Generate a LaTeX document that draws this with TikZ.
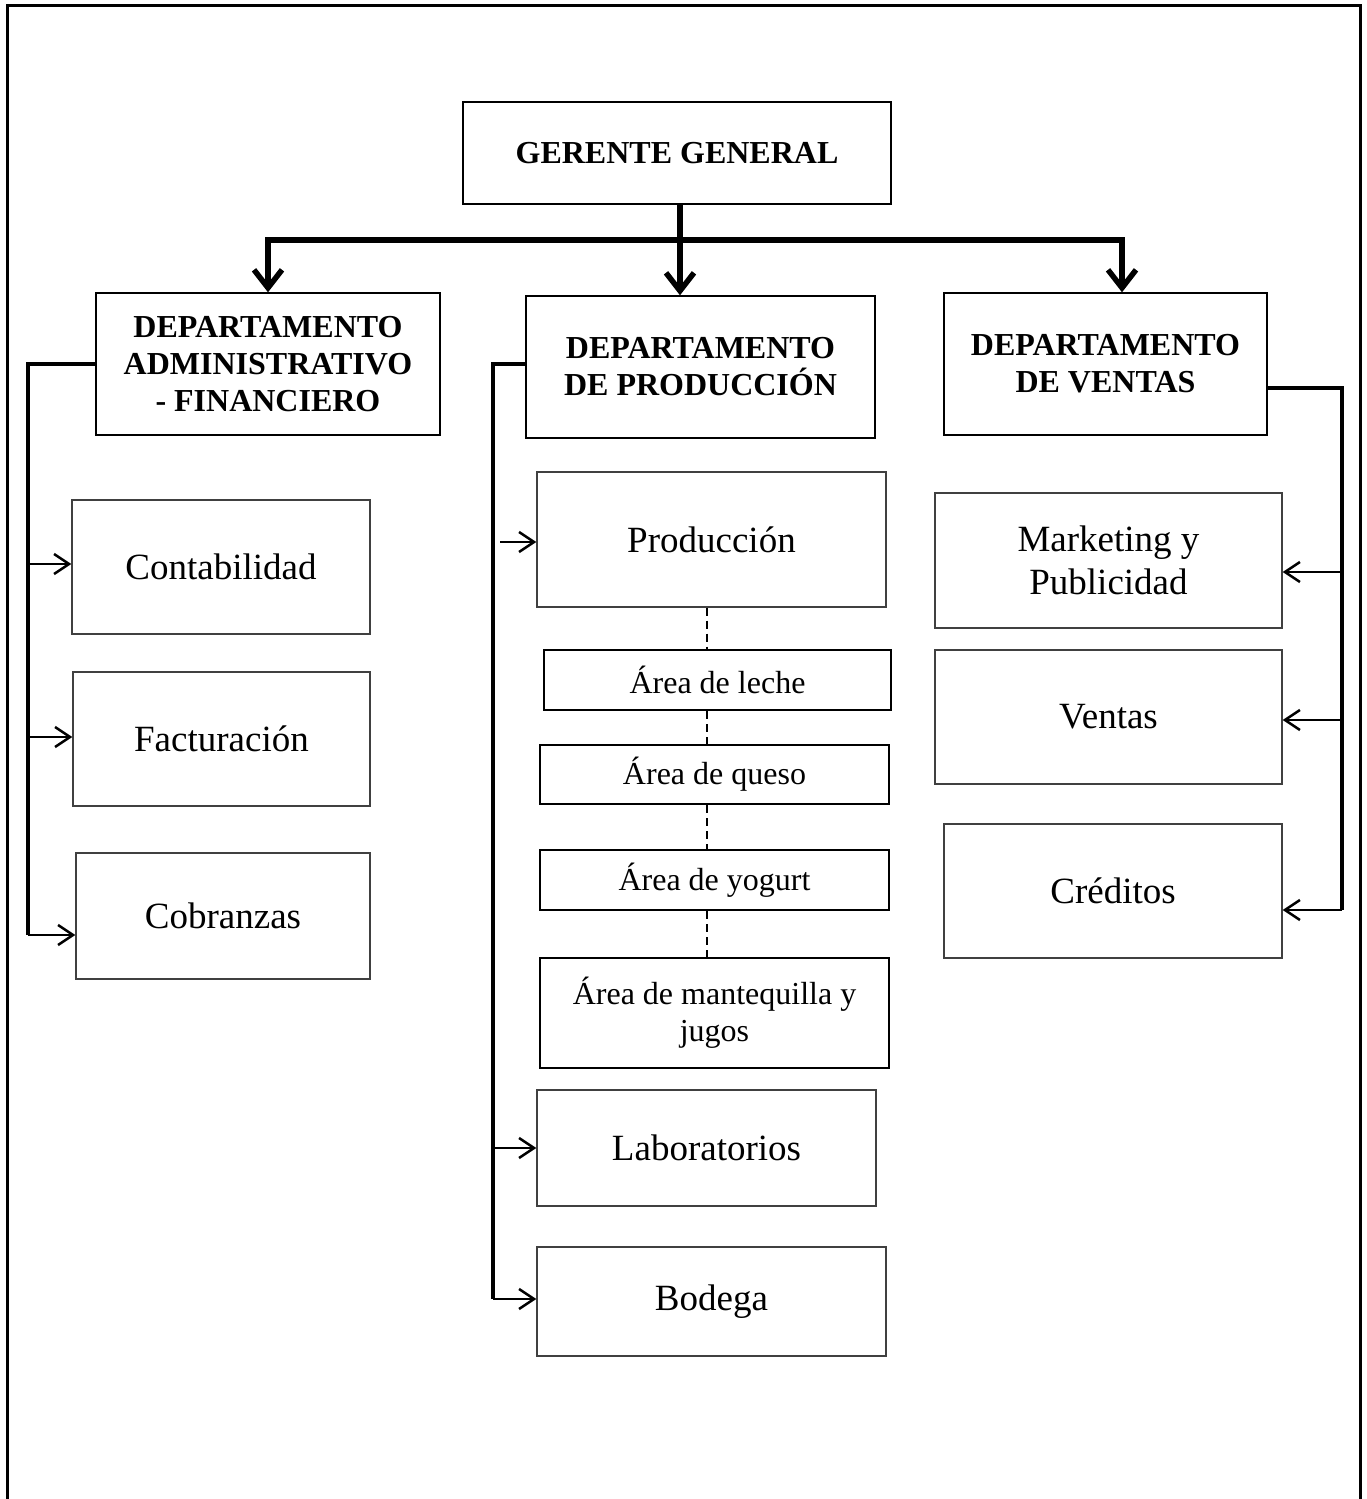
\documentclass[tikz,border=0pt]{standalone}
\usepackage{fontspec}
\setmainfont{Liberation Serif}
\usepackage{tikz}
\usetikzlibrary{arrows.meta}

\begin{document}
\begin{tikzpicture}[x=1pt,y=-1pt,
            box/.style={draw=black!75,line width=1.4pt,inner sep=0pt,align=center,font=\fontsize{37}{43}\selectfont},
            dept/.style={box,draw=black,font=\bfseries\fontsize{32}{37}\selectfont},
            area/.style={draw=black,line width=2.4pt,inner sep=0pt,align=center,font=\fontsize{32}{37}\selectfont},
            bigarrow/.style={line width=5.5pt,-{Straight Barb[length=18pt,width=28pt]}},
            branch/.style={line width=4.5pt},
            subarrow/.style={line width=2.5pt,-{Straight Barb[length=15pt,width=20pt]}},
            areadash/.style={line width=2.5pt,dash pattern=on 8pt off 5pt}]
            \useasboundingbox (0,0) rectangle (1367,1499);
            \draw[line width=3pt] (7,1499) -- (7,5) -- (1360,5) -- (1360,1499);

            \node[dept,minimum width=428pt,minimum height=102pt] (gerente) at (677,153) {GERENTE GENERAL};
            \node[dept,minimum width=344pt,minimum height=142pt] (admin) at (268,364) {DEPARTAMENTO\\ADMINISTRATIVO\\- FINANCIERO};
            \node[dept,minimum width=349pt,minimum height=142pt] (prod) at (700.5,367) {DEPARTAMENTO\\DE PRODUCCIÓN};
            \node[dept,minimum width=323pt,minimum height=142pt] (ventas) at (1105.5,364) {DEPARTAMENTO\\DE VENTAS};

            \node[box,minimum width=298pt,minimum height=134pt] (conta) at (221,567) {Contabilidad};
            \node[box,minimum width=297pt,minimum height=134pt] (fact) at (221.5,739) {Facturación};
            \node[box,minimum width=294pt,minimum height=126pt] (cobr) at (223,916) {Cobranzas};

            \node[box,minimum width=349pt,minimum height=135pt] (produccion) at (711.5,539.5) {Producción};
            \node[area,minimum width=347pt,minimum height=60pt] (leche) at (717.5,680) {Área de leche};
            \node[area,minimum width=349pt,minimum height=59pt] (queso) at (714.5,774.5) {Área de queso};
            \node[area,minimum width=349pt,minimum height=60pt] (yogurt) at (714.5,880) {Área de yogurt};
            \node[area,minimum width=349pt,minimum height=110pt] (mante) at (714.5,1013) {Área de mantequilla y\\jugos};
            \node[box,minimum width=339pt,minimum height=116pt] (lab) at (706.5,1148) {Laboratorios};
            \node[box,minimum width=349pt,minimum height=109pt] (bodega) at (711.5,1301.5) {Bodega};

            \node[box,minimum width=347pt,minimum height=135pt] (mkt) at (1108.5,560.5) {Marketing y\\Publicidad};
            \node[box,minimum width=347pt,minimum height=134pt] (vent) at (1108.5,717) {Ventas};
            \node[box,minimum width=338pt,minimum height=134pt] (cred) at (1113,891) {Créditos};

            \coordinate (busL) at (268,240);
            \coordinate (busR) at (1122,240);
            \draw[line width=5.5pt] ([xshift=-2.75pt]busL) -- ([xshift=2.75pt]busR);
            \draw[bigarrow] ([xshift=3pt]gerente.south) -- ([xshift=-20.5pt]prod.north);
            \draw[bigarrow] (busL) -- (admin.north);
            \draw[bigarrow] (busR) -- (busR |- ventas.north);

            \coordinate (la) at (28,935);
            \draw[branch] (admin.west) -| (la);
            \draw[subarrow] ([yshift=3pt]la |- conta.west) -- ([yshift=3pt]conta.west);
            \draw[subarrow] ([yshift=2pt]la |- fact.west) -- ([yshift=2pt]fact.west);
            \draw[subarrow] (la) -- (la -| cobr.west);

            \coordinate (lp) at (493,1299);
            \draw[branch] ([yshift=3pt]prod.west) -| (lp);
            \draw[subarrow] ([xshift=7pt,yshift=-2.5pt]lp |- produccion.west) -- ([yshift=-2.5pt]produccion.west);
            \draw[subarrow] (lp |- lab.west) -- (lab.west);
            \draw[subarrow] (lp) -- (lp -| bodega.west);

            \coordinate (lv) at (1342,910);
            \draw[branch] ([yshift=-24pt]ventas.east) -| (lv);
            \draw[subarrow] ([yshift=-11.5pt]lv |- mkt.east) -- ([yshift=-11.5pt]mkt.east);
            \draw[subarrow] ([yshift=-3pt]lv |- vent.east) -- ([yshift=-3pt]vent.east);
            \draw[subarrow] (lv) -- (lv -| cred.east);

            \coordinate (dx) at (707,0);
            \foreach \a/\b in {produccion/leche,leche/queso,queso/yogurt,yogurt/mante}
                \draw[areadash] (dx |- \a.south) -- (dx |- \b.north);
        \end{tikzpicture}
\end{document}
